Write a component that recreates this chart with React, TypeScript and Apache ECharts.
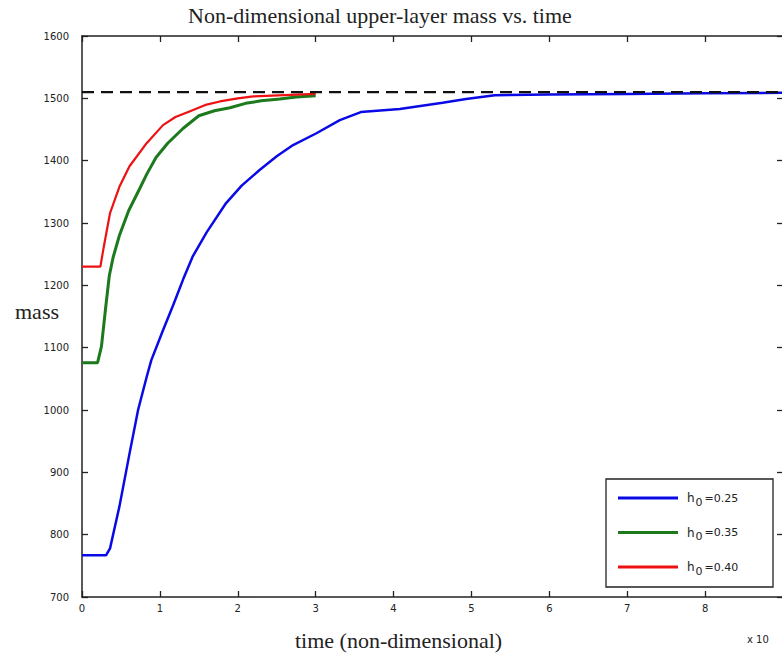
import React, { useEffect, useRef } from "react";
import * as echarts from "echarts";

const TITLE = "Non-dimensional upper-layer mass vs. time";
const X_NAME = "time (non-dimensional)";
const Y_NAME = "mass";
const X_SCALE_NOTE = "x 10";

const SERIES_NAMES = ["h0=0.25", "h0=0.35", "h0=0.40"];
const SERIES_COLORS = ["#0a0ae6", "#1c7a1c", "#ee1111"];

const timeA = [0, 0.31, 0.36, 0.48, 0.61, 0.72, 0.83, 0.89, 1.04, 1.17, 1.3, 1.42, 1.6, 1.85, 2.05, 2.28, 2.5, 2.71, 3.01, 3.31, 3.58, 4.08, 4.3, 4.63, 4.93, 5.3, 6, 7, 8, 9];
const massA = [767, 767, 778, 845, 930, 1000, 1053, 1080, 1128, 1168, 1210, 1246, 1285, 1332, 1360, 1385, 1407, 1425, 1444, 1465, 1478, 1483, 1487, 1493, 1499, 1505, 1506, 1507, 1508, 1509];

const timeB = [0, 0.2, 0.25, 0.3, 0.35, 0.4, 0.48, 0.6, 0.74, 0.83, 0.95, 1.1, 1.3, 1.5, 1.7, 1.9, 2.1, 2.3, 2.54, 2.75, 3.0];
const massB = [1076, 1076, 1102, 1160, 1215, 1245, 1280, 1320, 1355, 1378, 1405, 1428, 1452, 1472, 1480, 1485, 1492, 1496, 1499, 1502, 1504];

const timeC = [0, 0.236, 0.28, 0.36, 0.48, 0.61, 0.83, 1.04, 1.2, 1.38, 1.6, 1.77, 2.0, 2.2, 2.6, 3.0];
const massC = [1230, 1230, 1262, 1316, 1358, 1391, 1428, 1457, 1470, 1479, 1490, 1495, 1500, 1503, 1505, 1507];

const REF_TIME = [0, 9];
const REF_MASS = 1510;

const zip = (t: number[], m: number[]) => t.map((v, i) => [v, m[i]]);

const TICK_FONT = "DejaVu Sans";
const SERIF = "Liberation Serif";

export default function App() {
  const ref = useRef<HTMLDivElement>(null);
  useEffect(() => {
    if (!ref.current) return;
    const chart = echarts.init(ref.current, undefined, { renderer: "svg" });
    const axisLine = { show: true, onZero: false, lineStyle: { color: "#222", width: 1.5 } };
    const axisTick = { show: true, inside: true, length: 6, lineStyle: { color: "#222", width: 1.3 } };
    const xBase = { type: "value", min: 0, max: 9, interval: 1, splitLine: { show: false }, axisLine, axisTick };
    const yBase = { type: "value", min: 700, max: 1600, interval: 100, splitLine: { show: false }, axisLine, axisTick };
    const lineData = [zip(timeA, massA), zip(timeB, massB), zip(timeC, massC)];
    const widths = [2.5, 3, 2.2];
    chart.setOption({
      animation: false,
      backgroundColor: "#fff",
      grid: { left: 82, top: 36, width: 701, height: 561 },
      xAxis: [
        {
          ...xBase,
          position: "bottom",
          axisLabel: {
            margin: 6,
            color: "#222",
            fontFamily: TICK_FONT,
            fontSize: 10,
            showMaxLabel: false,
            formatter: (v: number) => String(v),
          },
        },
        { ...xBase, position: "top", axisLabel: { show: false } },
      ],
      yAxis: [
        {
          ...yBase,
          position: "left",
          axisLabel: {
            margin: 13,
            color: "#222",
            fontFamily: TICK_FONT,
            fontSize: 10,
            formatter: (v: number) => String(v),
          },
        },
        { ...yBase, position: "right", axisLabel: { show: false } },
      ],
      legend: {
        data: SERIES_NAMES,
        orient: "vertical",
        left: 618,
        top: 492,
        padding: 0,
        itemGap: 19,
        itemWidth: 60,
        itemHeight: 3,
        icon: "rect",
        z: 10,
        formatter: (name: string) => `{h|h}{s|0}{t|${name.slice(2)}}`,
        textStyle: {
          color: "#222",
          fontFamily: TICK_FONT,
          fontSize: 11,
          rich: {
            h: { fontFamily: TICK_FONT, fontSize: 12, color: "#222", padding: [0, 1, 0, 4] },
            s: { fontFamily: TICK_FONT, fontSize: 11, color: "#222", padding: [8, 2, 0, 0] },
            t: { fontFamily: TICK_FONT, fontSize: 11, color: "#222" },
          },
        },
      },
      series: [
        ...SERIES_NAMES.map((name, i) => ({
          name,
          type: "line",
          data: lineData[i],
          showSymbol: false,
          symbol: "none",
          color: SERIES_COLORS[i],
          lineStyle: { color: SERIES_COLORS[i], width: widths[i] },
          z: 2,
        })),
        {
          name: "reference",
          type: "line",
          data: REF_TIME.map((t) => [t, REF_MASS]),
          showSymbol: false,
          symbol: "none",
          lineStyle: { color: "#111", width: 2.2, type: [12, 7] },
          z: 3,
        },
      ],
      graphic: [
        {
          type: "rect",
          shape: { x: 606, y: 479, width: 167, height: 108 },
          style: { fill: "#fff", stroke: "#222", lineWidth: 1.3 },
          z: 5,
        },
        {
          type: "text",
          x: 188,
          y: 15.5,
          style: { text: TITLE, font: `22px "${SERIF}"`, fill: "#222", textVerticalAlign: "middle" },
        },
        {
          type: "text",
          x: 15,
          y: 311.5,
          style: { text: Y_NAME, font: `22px "${SERIF}"`, fill: "#222", textVerticalAlign: "middle" },
        },
        {
          type: "text",
          x: 295,
          y: 640.5,
          style: { text: X_NAME, font: `22px "${SERIF}"`, fill: "#222", textVerticalAlign: "middle" },
        },
        {
          type: "text",
          x: 747,
          y: 639,
          style: { text: X_SCALE_NOTE, font: `10px "${TICK_FONT}"`, fill: "#222", textVerticalAlign: "middle" },
        },
      ],
    });
    return () => chart.dispose();
  }, []);
  return (
    <div style={{ position: "absolute", left: 0, top: 0, width: 782, height: 656, overflow: "hidden", background: "#fff" }}>
      <div ref={ref} style={{ width: 790, height: 656 }} />
    </div>
  );
}
